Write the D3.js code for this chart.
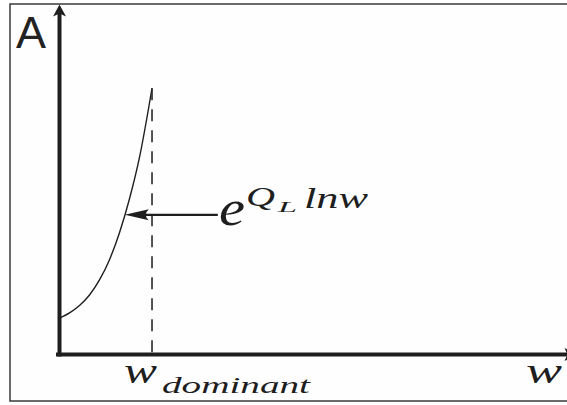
<!DOCTYPE html>
<html>
<head>
<meta charset="utf-8">
<script src="https://cdn.jsdelivr.net/npm/d3@7"></script>
<style>
  html, body { margin: 0; padding: 0; background: #ffffff; }
  svg { display: block; }
</style>
</head>
<body>
<svg id="chart" width="567" height="405"></svg>
<script>
// Sketch of A(w) = e^{Q_L ln w}, rising until w_dominant
const curveW = [0, 1.95, 3.89, 5.84, 7.78, 9.73, 11.67, 13.62, 15.56, 18.0];
const curveA = [10.4, 11.9, 14.0, 17.0, 21.3, 27.1, 34.8, 44.5, 56.3, 76.1];
const wDominant = 18.0;
const arrowA = 39.9;          // height of the annotation arrow
const arrowFromW = 30.8;      // tail of the arrow (near the formula)
const arrowToW = 12.7;        // tip of the arrow (on the curve)

const ink = "#1e1e1e";
const svg = d3.select("#chart");

const x = d3.scaleLinear().domain([0, 100]).range([59.5, 573.5]);
const y = d3.scaleLinear().domain([0, 100]).range([354.5, 4.5]);

// outer frame
svg.append("rect")
  .attr("x", 10).attr("y", 4)
  .attr("width", 580).attr("height", 397)
  .attr("fill", "#fefefe")
  .attr("stroke", "#3a3a3a").attr("stroke-width", 1.5);

// axes: thick lines with arrow heads
const axisW = 4;
const xEnd = x.range()[1] + 3;
const xAxis = d3.axisBottom(x).tickValues([]).tickSizeOuter(0);
svg.append("g")
  .attr("transform", `translate(0,${y(0)})`)
  .call(xAxis)
  .call(g => g.select(".domain")
    .attr("d", `M${x(0) - 3.5},0H${xEnd - 8}`)
    .attr("stroke", ink).attr("stroke-width", axisW));

const yAxis = d3.axisLeft(y).tickValues([]).tickSizeOuter(0);
svg.append("g")
  .attr("transform", `translate(${x(0)},0)`)
  .call(yAxis)
  .call(g => g.select(".domain")
    .attr("d", `M0,${y(0) + 2}V${y.range()[1] + 8}`)
    .attr("stroke", ink).attr("stroke-width", axisW));

// arrow heads of the axes
const yTip = [x(0), y.range()[1]];
svg.append("path")
  .attr("d", `M${yTip[0]},${yTip[1]} L${yTip[0] - 6.5},${yTip[1] + 12} L${yTip[0]},${yTip[1] + 9} L${yTip[0] + 6.5},${yTip[1] + 12} Z`)
  .attr("fill", ink);
const xTip = [xEnd, y(0)];
svg.append("path")
  .attr("d", `M${xTip[0]},${xTip[1]} L${xTip[0] - 12},${xTip[1] - 6.5} L${xTip[0] - 9},${xTip[1]} L${xTip[0] - 12},${xTip[1] + 6.5} Z`)
  .attr("fill", ink);

// the curve
const pts = curveW.map((w, i) => [w, curveA[i]]);
const line = d3.line()
  .x(d => x(d[0])).y(d => y(d[1]))
  .curve(d3.curveMonotoneX);
svg.append("path")
  .datum(pts)
  .attr("d", line)
  .attr("fill", "none")
  .attr("stroke", ink)
  .attr("stroke-width", 1.4);

// dashed marker at w_dominant
svg.append("line")
  .attr("x1", x(wDominant)).attr("x2", x(wDominant))
  .attr("y1", y(curveA[curveA.length - 1])).attr("y2", y(0))
  .attr("stroke", "#2a2a2a")
  .attr("stroke-width", 1.6)
  .attr("stroke-dasharray", "12,9");

// annotation arrow pointing at the curve
const ay = y(arrowA);
const tipX = x(arrowToW);
const headL = 24, headH = 5.5;
svg.append("line")
  .attr("x1", x(arrowFromW)).attr("x2", tipX + headL * 0.7)
  .attr("y1", ay).attr("y2", ay)
  .attr("stroke", ink).attr("stroke-width", 2.4);
svg.append("path")
  .attr("d", `M${tipX},${ay} L${tipX + headL},${ay - headH} Q${tipX + headL * 0.75},${ay} ${tipX + headL},${ay + headH} Z`)
  .attr("fill", ink);

// labels
const serif = "Liberation Serif";
svg.append("text")
  .attr("x", 16).attr("y", 48)
  .attr("font-family", "Liberation Sans")
  .attr("font-size", 45)
  .attr("fill", "#222")
  .text("A");

// italic maths text helper
function mathText(str, px, py, size, len) {
  return svg.append("text")
    .attr("x", px).attr("y", py)
    .attr("font-family", serif).attr("font-style", "italic")
    .attr("font-size", size).attr("fill", ink)
    .attr("textLength", len).attr("lengthAdjust", "spacingAndGlyphs")
    .text(str);
}

// formula e^{Q_L ln w}
mathText("e", 219, 225, 50, 26);
mathText("Q", 246, 206, 27, 29);
mathText("L", 278, 212, 15, 19);
mathText("lnw", 304, 208, 29, 64);

// axis labels: w_dominant and w
mathText("w", 124, 383, 36, 33);
mathText("dominant", 162, 393, 24, 148);
mathText("w", 526, 383, 36, 36);
</script>
</body>
</html>
